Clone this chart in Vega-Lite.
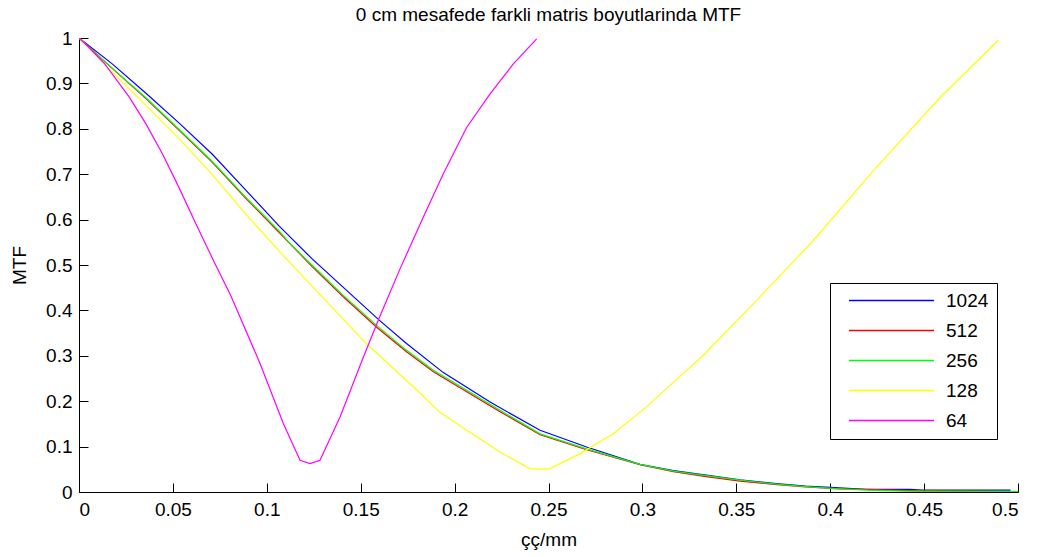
{
  "$schema": "https://vega.github.io/schema/vega-lite/v6.json",
  "autosize": {"type": "none"},
  "width": 939,
  "height": 454,
  "padding": {"left": 79, "top": 38, "right": 19, "bottom": 65},
  "background": "white",
  "title": {
    "text": "0 cm mesafede farkli matris boyutlarinda MTF",
    "font": "Liberation Sans",
    "fontSize": 19,
    "fontWeight": "normal",
    "color": "black",
    "anchor": "middle",
    "frame": "group",
    "offset": 4
  },
  "config": {
    "view": {"stroke": null},
    "axis": {
      "grid": false,
      "domainColor": "black",
      "domainWidth": 1,
      "tickColor": "black",
      "tickWidth": 1,
      "tickSize": -9,
      "labelFont": "Liberation Sans",
      "labelFontSize": 19,
      "labelColor": "black",
      "titleFont": "Liberation Sans",
      "titleFontSize": 19,
      "titleFontWeight": "normal",
      "titleColor": "black"
    }
  },
  "data": {
    "values": [
      {"f": 0, "mtf": 1.0, "size": "1024"},
      {"f": 0.0177, "mtf": 0.943, "size": "1024"},
      {"f": 0.0355, "mtf": 0.879, "size": "1024"},
      {"f": 0.0532, "mtf": 0.813, "size": "1024"},
      {"f": 0.071, "mtf": 0.744, "size": "1024"},
      {"f": 0.0888, "mtf": 0.665, "size": "1024"},
      {"f": 0.1065, "mtf": 0.586, "size": "1024"},
      {"f": 0.124, "mtf": 0.514, "size": "1024"},
      {"f": 0.1425, "mtf": 0.444, "size": "1024"},
      {"f": 0.16, "mtf": 0.378, "size": "1024"},
      {"f": 0.1744, "mtf": 0.327, "size": "1024"},
      {"f": 0.194, "mtf": 0.263, "size": "1024"},
      {"f": 0.2189, "mtf": 0.198, "size": "1024"},
      {"f": 0.2455, "mtf": 0.136, "size": "1024"},
      {"f": 0.2703, "mtf": 0.099, "size": "1024"},
      {"f": 0.2987, "mtf": 0.061, "size": "1024"},
      {"f": 0.3165, "mtf": 0.047, "size": "1024"},
      {"f": 0.334, "mtf": 0.037, "size": "1024"},
      {"f": 0.352, "mtf": 0.027, "size": "1024"},
      {"f": 0.37, "mtf": 0.019, "size": "1024"},
      {"f": 0.387, "mtf": 0.013, "size": "1024"},
      {"f": 0.4, "mtf": 0.01, "size": "1024"},
      {"f": 0.419, "mtf": 0.006, "size": "1024"},
      {"f": 0.4425, "mtf": 0.006, "size": "1024"},
      {"f": 0.449, "mtf": 0.004, "size": "1024"},
      {"f": 0.496, "mtf": 0.004, "size": "1024"},

      {"f": 0, "mtf": 1.0, "size": "512"},
      {"f": 0.0177, "mtf": 0.933, "size": "512"},
      {"f": 0.0355, "mtf": 0.867, "size": "512"},
      {"f": 0.0532, "mtf": 0.797, "size": "512"},
      {"f": 0.071, "mtf": 0.726, "size": "512"},
      {"f": 0.0888, "mtf": 0.647, "size": "512"},
      {"f": 0.1065, "mtf": 0.572, "size": "512"},
      {"f": 0.124, "mtf": 0.497, "size": "512"},
      {"f": 0.1407, "mtf": 0.43, "size": "512"},
      {"f": 0.1585, "mtf": 0.363, "size": "512"},
      {"f": 0.1744, "mtf": 0.309, "size": "512"},
      {"f": 0.1887, "mtf": 0.265, "size": "512"},
      {"f": 0.2242, "mtf": 0.177, "size": "512"},
      {"f": 0.2455, "mtf": 0.126, "size": "512"},
      {"f": 0.2703, "mtf": 0.093, "size": "512"},
      {"f": 0.2987, "mtf": 0.06, "size": "512"},
      {"f": 0.3165, "mtf": 0.045, "size": "512"},
      {"f": 0.334, "mtf": 0.034, "size": "512"},
      {"f": 0.352, "mtf": 0.024, "size": "512"},
      {"f": 0.37, "mtf": 0.017, "size": "512"},
      {"f": 0.387, "mtf": 0.011, "size": "512"},
      {"f": 0.405, "mtf": 0.007, "size": "512"},
      {"f": 0.419, "mtf": 0.006, "size": "512"},
      {"f": 0.443, "mtf": 0.003, "size": "512"},
      {"f": 0.5, "mtf": 0.001, "size": "512"},

      {"f": 0, "mtf": 1.0, "size": "256"},
      {"f": 0.0177, "mtf": 0.933, "size": "256"},
      {"f": 0.0355, "mtf": 0.869, "size": "256"},
      {"f": 0.0532, "mtf": 0.799, "size": "256"},
      {"f": 0.071, "mtf": 0.728, "size": "256"},
      {"f": 0.0888, "mtf": 0.649, "size": "256"},
      {"f": 0.1065, "mtf": 0.575, "size": "256"},
      {"f": 0.1124, "mtf": 0.547, "size": "256"},
      {"f": 0.124, "mtf": 0.5, "size": "256"},
      {"f": 0.1407, "mtf": 0.433, "size": "256"},
      {"f": 0.1585, "mtf": 0.367, "size": "256"},
      {"f": 0.1744, "mtf": 0.312, "size": "256"},
      {"f": 0.1887, "mtf": 0.268, "size": "256"},
      {"f": 0.2242, "mtf": 0.18, "size": "256"},
      {"f": 0.2455, "mtf": 0.128, "size": "256"},
      {"f": 0.2703, "mtf": 0.095, "size": "256"},
      {"f": 0.2987, "mtf": 0.061, "size": "256"},
      {"f": 0.3165, "mtf": 0.046, "size": "256"},
      {"f": 0.334, "mtf": 0.036, "size": "256"},
      {"f": 0.352, "mtf": 0.026, "size": "256"},
      {"f": 0.37, "mtf": 0.018, "size": "256"},
      {"f": 0.387, "mtf": 0.012, "size": "256"},
      {"f": 0.405, "mtf": 0.007, "size": "256"},
      {"f": 0.42, "mtf": 0.004, "size": "256"},
      {"f": 0.44, "mtf": 0.002, "size": "256"},
      {"f": 0.5, "mtf": 0.001, "size": "256"},

      {"f": 0, "mtf": 1.0, "size": "128"},
      {"f": 0.0177, "mtf": 0.925, "size": "128"},
      {"f": 0.0355, "mtf": 0.852, "size": "128"},
      {"f": 0.0532, "mtf": 0.779, "size": "128"},
      {"f": 0.071, "mtf": 0.699, "size": "128"},
      {"f": 0.0888, "mtf": 0.612, "size": "128"},
      {"f": 0.1065, "mtf": 0.531, "size": "128"},
      {"f": 0.1212, "mtf": 0.466, "size": "128"},
      {"f": 0.153, "mtf": 0.327, "size": "128"},
      {"f": 0.18, "mtf": 0.224, "size": "128"},
      {"f": 0.192, "mtf": 0.176, "size": "128"},
      {"f": 0.2064, "mtf": 0.136, "size": "128"},
      {"f": 0.2242, "mtf": 0.088, "size": "128"},
      {"f": 0.24, "mtf": 0.0515, "size": "128"},
      {"f": 0.2455, "mtf": 0.05, "size": "128"},
      {"f": 0.2508, "mtf": 0.0515, "size": "128"},
      {"f": 0.2668, "mtf": 0.0845, "size": "128"},
      {"f": 0.2845, "mtf": 0.1285, "size": "128"},
      {"f": 0.302, "mtf": 0.187, "size": "128"},
      {"f": 0.3235, "mtf": 0.268, "size": "128"},
      {"f": 0.3307, "mtf": 0.294, "size": "128"},
      {"f": 0.3608, "mtf": 0.422, "size": "128"},
      {"f": 0.391, "mtf": 0.554, "size": "128"},
      {"f": 0.423, "mtf": 0.708, "size": "128"},
      {"f": 0.4585, "mtf": 0.869, "size": "128"},
      {"f": 0.4895, "mtf": 0.995, "size": "128"},

      {"f": 0, "mtf": 1.0, "size": "64"},
      {"f": 0.0053, "mtf": 0.979, "size": "64"},
      {"f": 0.0133, "mtf": 0.945, "size": "64"},
      {"f": 0.0266, "mtf": 0.871, "size": "64"},
      {"f": 0.0355, "mtf": 0.812, "size": "64"},
      {"f": 0.0444, "mtf": 0.745, "size": "64"},
      {"f": 0.0532, "mtf": 0.671, "size": "64"},
      {"f": 0.0621, "mtf": 0.592, "size": "64"},
      {"f": 0.071, "mtf": 0.515, "size": "64"},
      {"f": 0.0808, "mtf": 0.433, "size": "64"},
      {"f": 0.0964, "mtf": 0.283, "size": "64"},
      {"f": 0.1088, "mtf": 0.151, "size": "64"},
      {"f": 0.1177, "mtf": 0.07, "size": "64"},
      {"f": 0.123, "mtf": 0.0625, "size": "64"},
      {"f": 0.1283, "mtf": 0.07, "size": "64"},
      {"f": 0.139, "mtf": 0.165, "size": "64"},
      {"f": 0.1514, "mtf": 0.297, "size": "64"},
      {"f": 0.16, "mtf": 0.385, "size": "64"},
      {"f": 0.171, "mtf": 0.492, "size": "64"},
      {"f": 0.1833, "mtf": 0.605, "size": "64"},
      {"f": 0.194, "mtf": 0.701, "size": "64"},
      {"f": 0.2064, "mtf": 0.803, "size": "64"},
      {"f": 0.2189, "mtf": 0.877, "size": "64"},
      {"f": 0.2313, "mtf": 0.943, "size": "64"},
      {"f": 0.2437, "mtf": 0.998, "size": "64"}
    ]
  },
  "mark": {"type": "line", "strokeWidth": 1.2, "clip": true},
  "encoding": {
    "x": {
      "field": "f",
      "type": "quantitative",
      "scale": {"domain": [0, 0.5], "nice": false, "zero": false},
      "axis": {
        "title": "çç/mm",
        "values": [0, 0.05, 0.1, 0.15, 0.2, 0.25, 0.3, 0.35, 0.4, 0.45, 0.5],
        "format": "~g",
        "labelPadding": 17,
        "titlePadding": 11
      }
    },
    "y": {
      "field": "mtf",
      "type": "quantitative",
      "scale": {"domain": [0, 1], "nice": false},
      "axis": {
        "title": "MTF",
        "values": [0, 0.1, 0.2, 0.3, 0.4, 0.5, 0.6, 0.7, 0.8, 0.9, 1],
        "format": "~g",
        "labelPadding": 16,
        "titlePadding": 16
      }
    },
    "color": {
      "field": "size",
      "type": "nominal",
      "sort": null,
      "scale": {
        "domain": ["1024", "512", "256", "128", "64"],
        "range": ["#0000ff", "#ff0000", "#00ff00", "#ffff00", "#ff00ff"]
      },
      "legend": {
        "title": null,
        "orient": "none",
        "legendX": 751,
        "legendY": 245,
        "direction": "vertical",
        "strokeColor": "black",
        "fillColor": "white",
        "padding": 8,
        "rowPadding": 10,
        "symbolType": "M-5,0H5",
        "symbolSize": 289,
        "symbolOffset": 44,
        "symbolStrokeWidth": 1.5,
        "labelFont": "Liberation Sans",
        "labelFontSize": 19,
        "labelColor": "black",
        "labelOffset": 45
      }
    }
  }
}
